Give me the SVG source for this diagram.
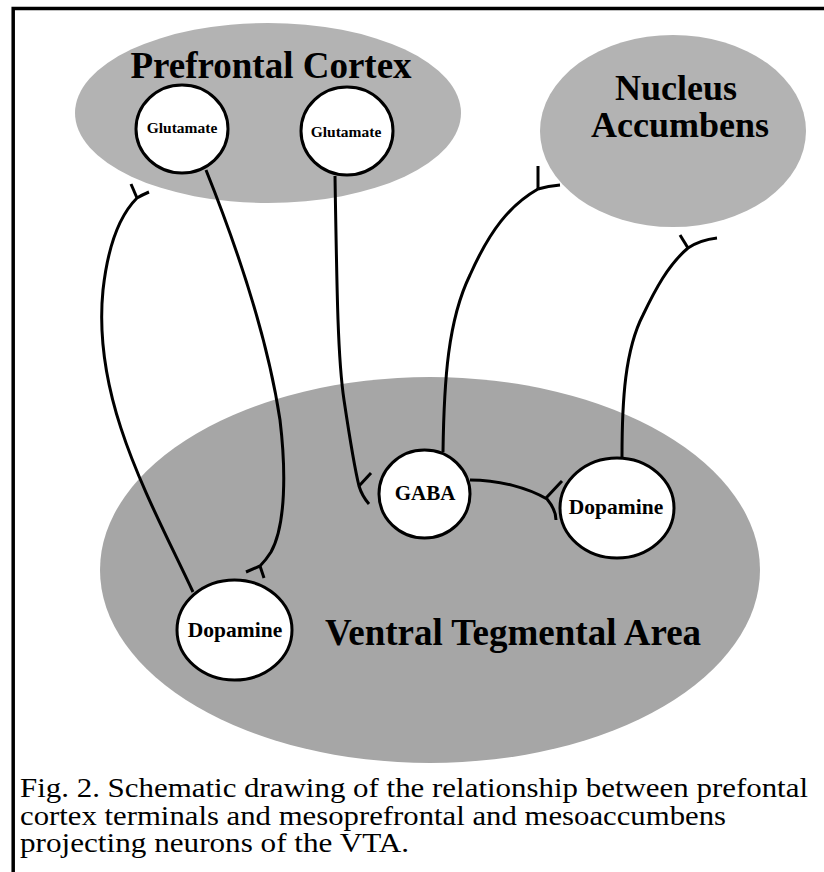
<svg xmlns="http://www.w3.org/2000/svg" width="824" height="872" viewBox="0 0 824 872">
<style>
.region-light{fill:#b3b3b3}
.region-dark{fill:#a6a6a6}
.cell{fill:#fff;stroke:#000;stroke-width:3}
.axon{fill:none;stroke:#000;stroke-width:3;stroke-linecap:butt}
.lbl{font-family:"Liberation Serif","Times New Roman",serif;font-weight:bold;fill:#000;text-anchor:middle}
.cap{font-family:"Liberation Serif","Times New Roman",serif;font-size:28px;fill:#000}
</style>
<rect width="824" height="872" fill="#fff"/>
<path d="M13.2,872 V8.5 H824" fill="none" stroke="#000" stroke-width="3.5"/>

<g id="pfc">
<ellipse class="region-light" cx="268" cy="113" rx="193" ry="90"/>
<text class="lbl" x="271" y="78" font-size="37">Prefrontal Cortex</text>
</g>
<g id="nac">
<ellipse class="region-light" cx="673" cy="131" rx="133" ry="96"/>
<text class="lbl" x="676" y="100" font-size="36">Nucleus</text>
<text class="lbl" x="680" y="137" font-size="36">Accumbens</text>
</g>
<g id="vta">
<ellipse class="region-dark" cx="430" cy="570" rx="330" ry="193"/>
<text class="lbl" x="513" y="645" font-size="37">Ventral Tegmental Area</text>
</g>

<g id="connectors">
<!-- left dopamine -> PFC -->
<path class="axon" d="M193,592 C150,500 92,400 103,290 C108,245 120,215 137,198 Q142,195 149,192"/>
<path class="axon" d="M137,198 L131,184"/>
<!-- left glutamate -> left dopamine -->
<path class="axon" d="M206,170 C240,255 268,340 280,420 C286,470 286,525 271,552 Q266,560 260,566 L246,572"/>
<path class="axon" d="M260,566 L264,578"/>
<!-- right glutamate -> GABA -->
<path class="axon" d="M335,176 C337,300 338,360 344,400 C350,440 355,470 359,486 Q362,496 369,504"/>
<path class="axon" d="M359,486 L371,473"/>
<!-- GABA -> nucleus accumbens -->
<path class="axon" d="M443,452 C444,380 448,320 470,275 C490,230 510,205 538,189 Q548,186 560,185"/>
<path class="axon" d="M538,189 L538,166"/>
<!-- right dopamine -> nucleus accumbens -->
<path class="axon" d="M622,457 C622,400 625,350 643,315 C655,290 668,265 688,248 Q700,240 717,238"/>
<path class="axon" d="M688,248 L680,235"/>
<!-- GABA -> right dopamine -->
<path class="axon" d="M470,480 C500,480 528,488 547,499 C552,505 556,512 556,520"/>
<path class="axon" d="M546,498 L562,481"/>
</g>

<g id="glutamate1">
<ellipse class="cell" cx="182" cy="129" rx="46" ry="44"/>
<text class="lbl" x="182" y="133" font-size="15.5">Glutamate</text>
</g>
<g id="glutamate2">
<ellipse class="cell" cx="347" cy="131" rx="46" ry="44"/>
<text class="lbl" x="346" y="137" font-size="15.5">Glutamate</text>
</g>
<g id="gaba">
<ellipse class="cell" cx="424.5" cy="494" rx="45.5" ry="44"/>
<text class="lbl" x="425" y="500" font-size="21">GABA</text>
</g>
<g id="dopamine-right">
<ellipse class="cell" cx="617" cy="508" rx="57" ry="50"/>
<text class="lbl" x="616" y="514" font-size="21.5">Dopamine</text>
</g>
<g id="dopamine-left">
<ellipse class="cell" cx="234.5" cy="630" rx="57.5" ry="50"/>
<text class="lbl" x="235" y="637" font-size="21.5">Dopamine</text>
</g>

<g id="caption">
<text class="cap" x="20" y="797" textLength="788" lengthAdjust="spacingAndGlyphs">Fig. 2. Schematic drawing of the relationship between prefontal</text>
<text class="cap" x="20" y="825" textLength="706" lengthAdjust="spacingAndGlyphs">cortex terminals and mesoprefrontal and mesoaccumbens</text>
<text class="cap" x="20" y="852" textLength="389" lengthAdjust="spacingAndGlyphs">projecting neurons of the VTA.</text>
</g>
</svg>
